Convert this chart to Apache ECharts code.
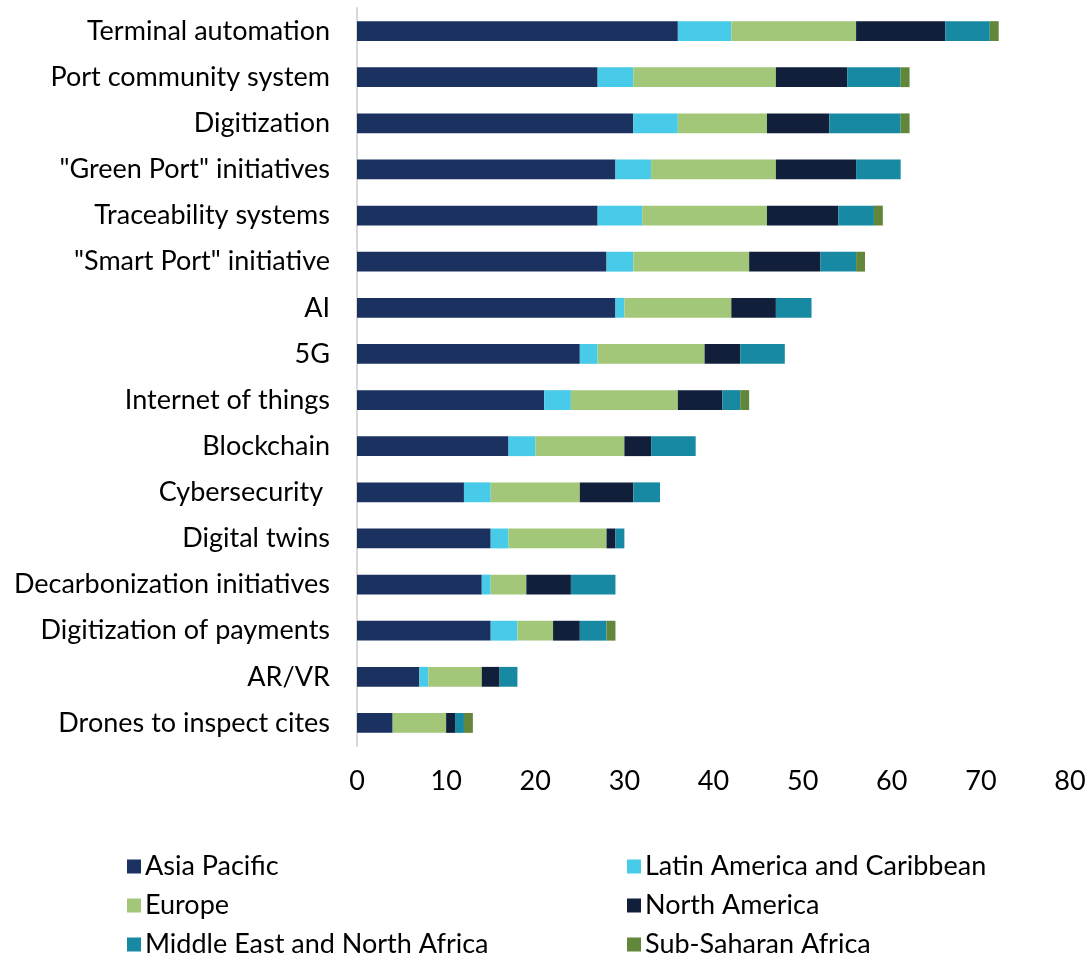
<!DOCTYPE html>
<html>
<head>
<meta charset="utf-8">
<script src="https://cdn.jsdelivr.net/npm/echarts@6/dist/echarts.min.js"></script>
<style>
  html,body{margin:0;padding:0;background:#fff;}
  #chart{width:1089px;height:957px;}
</style>
</head>
<body>
<div id="chart"></div>
<script>
// categories, top to bottom as in the picture
var categories = ['Terminal automation', 'Port community system', 'Digitization', '"Green Port" initiatives',
  'Traceability systems', '"Smart Port" initiative', 'AI', '5G', 'Internet of things', 'Blockchain',
  'Cybersecurity ', 'Digital twins', 'Decarbonization initiatives', 'Digitization of payments', 'AR/VR',
  'Drones to inspect cites'];

var asiaPacific = [36, 27, 31, 29, 27, 28, 29, 25, 21, 17, 12, 15, 14, 15, 7, 4];
var latinAmerica = [6, 4, 5, 4, 5, 3, 1, 2, 3, 3, 3, 2, 1, 3, 1, 0];
var europe = [14, 16, 10, 14, 14, 13, 12, 12, 12, 10, 10, 11, 4, 4, 6, 6];
var northAmerica = [10, 8, 7, 9, 8, 8, 5, 4, 5, 3, 6, 1, 5, 3, 2, 1];
var middleEast = [5, 6, 8, 5, 4, 4, 4, 5, 2, 5, 3, 1, 5, 3, 2, 1];
var subSaharan = [1, 1, 1, 0, 1, 1, 0, 0, 1, 0, 0, 0, 0, 1, 0, 1];

var seriesNames = ['Asia Pacific', 'Latin America and Caribbean', 'Europe', 'North America',
  'Middle East and North Africa', 'Sub-Saharan Africa'];
var seriesData = [asiaPacific, latinAmerica, europe, northAmerica, middleEast, subSaharan];
var colors = ['#1b3260', '#48cbe8', '#a3c779', '#111f3a', '#1789a2', '#62873a'];

var font = 'Lato, "Open Sans", sans-serif';
var legendText = { fontFamily: font, fontSize: 27, color: '#000', padding: [0, 0, 0, -1] };

var chart = echarts.init(document.getElementById('chart'));
chart.setOption({
  animation: false,
  color: colors,
  grid: { left: 357, right: 19, top: 8, bottom: 211 },
  legend: [{
    left: 122, top: 848, orient: 'vertical', itemWidth: 14, itemHeight: 14, itemGap: 12,
    height: 108, icon: 'rect',
    textStyle: legendText,
    data: [seriesNames[0], seriesNames[2], seriesNames[4]]
  }, {
    left: 622, top: 848, orient: 'vertical', itemWidth: 14, itemHeight: 14, itemGap: 12,
    height: 108, icon: 'rect',
    textStyle: legendText,
    data: [seriesNames[1], seriesNames[3], seriesNames[5]]
  }],
  xAxis: {
    type: 'value', min: 0, max: 80, interval: 10,
    axisLine: { show: false }, axisTick: { show: false }, splitLine: { show: false },
    axisLabel: { fontFamily: font, fontSize: 27, color: '#000', margin: 22 }
  },
  yAxis: {
    type: 'category', inverse: true, data: categories,
    axisLine: { lineStyle: { color: '#d9d9d9', width: 2 } },
    axisTick: { show: false },
    axisLabel: { fontFamily: font, fontSize: 27, color: '#000', margin: 27 }
  },
  series: seriesNames.map(function (name, i) {
    return {
      name: name, type: 'bar', stack: 'total', barCategoryGap: '57%',
      itemStyle: { color: colors[i] },
      data: seriesData[i]
    };
  })
});
</script>
</body>
</html>
